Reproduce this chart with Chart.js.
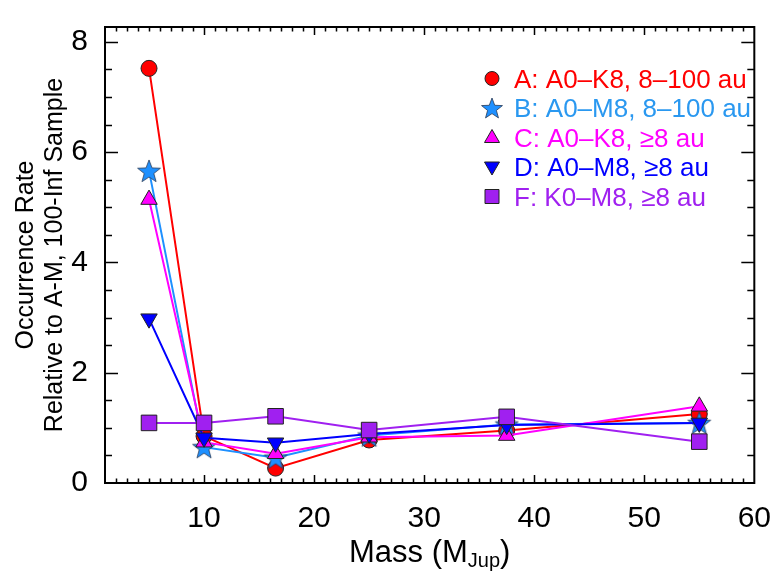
<!DOCTYPE html>
<html>
<head>
<meta charset="utf-8">
<script src="https://cdn.jsdelivr.net/npm/chart.js@4.4.1/dist/chart.umd.min.js"></script>
<style>
    html, body { margin: 0; padding: 0; background: #fff; }
    #occurrence-chart { display: block; }
</style>
</head>
<body>
<canvas id="occurrence-chart" width="781" height="586"></canvas>
<script>
// mass bins (M_Jup)
const massValues = [5, 10, 16.5, 25, 37.5, 55];

// occurrence rate relative to A-M, 100-Inf sample
const rateA = [7.52, 0.85, 0.27, 0.78, 0.95, 1.25];
const rateB = [5.66, 0.65, 0.46, 0.86, 1.06, 1.09];
const rateC = [5.14, 0.74, 0.53, 0.83, 0.86, 1.39];
const rateD = [2.98, 0.82, 0.73, 0.89, 1.05, 1.09];
const rateF = [1.09, 1.09, 1.21, 0.96, 1.20, 0.75];

const seriesLabels = [
    'A: A0\u2013K8, 8\u2013100 au',
    'B: A0\u2013M8, 8\u2013100 au',
    'C: A0\u2013K8, \u22658 au',
    'D: A0\u2013M8, \u22658 au',
    'F: K0\u2013M8, \u22658 au'
];

const xTickValues = [10, 20, 30, 40, 50, 60];
const yTickValues = [0, 2, 4, 6, 8];

const FONT = '"Liberation Sans", Arial, Helvetica, sans-serif';
const colors = ['#ff0000', '#1e90ff', '#ff00ff', '#0000ff', '#a020f0'];
const textColors = ['#ff0000', '#2a98f0', '#ff00ff', '#0000ff', '#a020f0'];

function starPath(ctx, cx, cy, outer, inner) {
    ctx.beginPath();
    for (let i = 0; i < 10; i++) {
        const r = i % 2 === 0 ? outer : inner;
        const a = -Math.PI / 2 + i * Math.PI / 5;
        const px = cx + r * Math.cos(a);
        const py = cy + r * Math.sin(a);
        if (i === 0) ctx.moveTo(px, py); else ctx.lineTo(px, py);
    }
    ctx.closePath();
}

function makeStar(outer) {
    const size = Math.ceil(outer * 2 + 4);
    const c = document.createElement('canvas');
    c.width = size;
    c.height = size;
    const ctx = c.getContext('2d');
    starPath(ctx, size / 2, size / 2 + 1, outer, outer * 0.42);
    ctx.fillStyle = colors[1];
    ctx.fill();
    ctx.lineWidth = 0.8;
    ctx.strokeStyle = '#2a3a55';
    ctx.stroke();
    return c;
}

const starImage = makeStar(12);
const legendStar = makeStar(11);

function makeSet(label, data, color, style, radius, rotation, order) {
    return {
        label: label,
        data: massValues.map((m, i) => ({ x: m, y: data[i] })),
        borderColor: color,
        backgroundColor: color,
        borderWidth: 2,
        pointStyle: style,
        pointRadius: radius,
        pointRotation: rotation,
        pointBackgroundColor: color,
        pointBorderColor: '#222',
        pointBorderWidth: 1,
        tension: 0,
        order: order
    };
}

// frame, inward ticks, axis titles and legend
const decorations = {
    id: 'decorations',
    afterDraw(chart) {
        const ctx = chart.ctx;
        const a = chart.chartArea;
        const xs = chart.scales.x;
        const ys = chart.scales.y;
        ctx.save();

        ctx.strokeStyle = '#000';
        ctx.lineWidth = 1.5;
        ctx.beginPath();
        for (let v = 2; v < 60; v++) {
            const major = v % 10 === 0;
            const len = major ? 8 : 4.5;
            const px = Math.round(xs.getPixelForValue(v)) + 0.5;
            ctx.moveTo(px, a.bottom); ctx.lineTo(px, a.bottom - len);
            ctx.moveTo(px, a.top); ctx.lineTo(px, a.top + len);
        }
        for (let v = 0.5; v < 8.3; v += 0.5) {
            const major = v % 2 === 0;
            const len = major ? 13 : 7;
            const py = Math.round(ys.getPixelForValue(v)) + 0.5;
            ctx.moveTo(a.left, py); ctx.lineTo(a.left + len, py);
            ctx.moveTo(a.right, py); ctx.lineTo(a.right - len, py);
        }
        ctx.stroke();

        ctx.lineWidth = 2;
        ctx.strokeRect(a.left, a.top, a.right - a.left, a.bottom - a.top);

        // x title with subscript
        ctx.fillStyle = '#000';
        ctx.textBaseline = 'alphabetic';
        ctx.textAlign = 'left';
        const mainFont = '31px ' + FONT;
        const subFont = '20px ' + FONT;
        ctx.font = mainFont;
        const w1 = ctx.measureText('Mass (M').width;
        const w3 = ctx.measureText(')').width;
        ctx.font = subFont;
        const w2 = ctx.measureText('Jup').width;
        let tx = (a.left + a.right) / 2 - (w1 + w2 + w3) / 2;
        const ty = 562;
        ctx.font = mainFont;
        ctx.fillText('Mass (M', tx, ty);
        ctx.font = subFont;
        ctx.fillText('Jup', tx + w1, ty + 5);
        ctx.font = mainFont;
        ctx.fillText(')', tx + w1 + w2, ty);

        // y title, two lines
        const cy = (a.top + a.bottom) / 2;
        ctx.font = '25px ' + FONT;
        ctx.textAlign = 'center';
        [['Occurrence Rate', 33], ['Relative to A-M, 100-Inf Sample', 62]].forEach(([t, bx]) => {
            ctx.save();
            ctx.translate(bx, cy);
            ctx.rotate(-Math.PI / 2);
            ctx.fillText(t, 0, 0);
            ctx.restore();
        });

        // legend
        ctx.textAlign = 'left';
        ctx.font = '26px ' + FONT;
        const mx = 492;
        for (let i = 0; i < seriesLabels.length; i++) {
            const ry = 78.5 + i * 29.5;
            ctx.fillStyle = colors[i];
            ctx.strokeStyle = '#222';
            ctx.lineWidth = 1;
            ctx.beginPath();
            if (i === 0) {
                ctx.arc(mx, ry, 7, 0, Math.PI * 2);
                ctx.fill(); ctx.stroke();
            } else if (i === 1) {
                ctx.drawImage(legendStar, mx - legendStar.width / 2, ry - legendStar.height / 2);
            } else if (i === 2) {
                ctx.moveTo(mx, ry - 8); ctx.lineTo(mx + 7.5, ry + 5); ctx.lineTo(mx - 7.5, ry + 5);
                ctx.closePath(); ctx.fill(); ctx.stroke();
            } else if (i === 3) {
                ctx.moveTo(mx, ry + 8); ctx.lineTo(mx + 7.5, ry - 5); ctx.lineTo(mx - 7.5, ry - 5);
                ctx.closePath(); ctx.fill(); ctx.stroke();
            } else {
                ctx.rect(mx - 7, ry - 7, 14, 14);
                ctx.fill(); ctx.stroke();
            }
            ctx.fillStyle = textColors[i];
            ctx.fillText(seriesLabels[i], 514, ry + 9);
        }

        ctx.restore();
    }
};

const canvas = document.getElementById('occurrence-chart');
new Chart(canvas, {
    type: 'line',
    data: {
        datasets: [
            makeSet(seriesLabels[0], rateA, colors[0], 'circle', 8, 0, 5),
            makeSet(seriesLabels[1], rateB, colors[1], starImage, 12, 0, 4),
            makeSet(seriesLabels[2], rateC, colors[2], 'triangle', 9.5, 0, 3),
            makeSet(seriesLabels[3], rateD, colors[3], 'triangle', 9.5, 180, 2),
            makeSet(seriesLabels[4], rateF, colors[4], 'rect', 11, 0, 1)
        ]
    },
    options: {
        responsive: false,
        animation: false,
        layout: { padding: { left: 0, top: 20, right: 16, bottom: 0 } },
        plugins: {
            legend: { display: false },
            tooltip: { enabled: false }
        },
        scales: {
            x: {
                type: 'linear',
                min: 1,
                max: 60,
                grid: { display: false },
                border: { display: false },
                ticks: {
                    color: '#000',
                    font: { family: FONT, size: 30 },
                    padding: 10,
                    maxRotation: 0
                },
                afterBuildTicks: scale => { scale.ticks = xTickValues.map(v => ({ value: v })); },
                afterFit: scale => { scale.height = 103; }
            },
            y: {
                type: 'linear',
                min: 0,
                max: 8.27,
                grid: { display: false },
                border: { display: false },
                ticks: {
                    color: '#000',
                    font: { family: FONT, size: 30 },
                    padding: 9
                },
                afterBuildTicks: scale => { scale.ticks = yTickValues.map(v => ({ value: v })); },
                afterFit: scale => { scale.width = 105; }
            }
        }
    },
    plugins: [decorations]
});
</script>
</body>
</html>
